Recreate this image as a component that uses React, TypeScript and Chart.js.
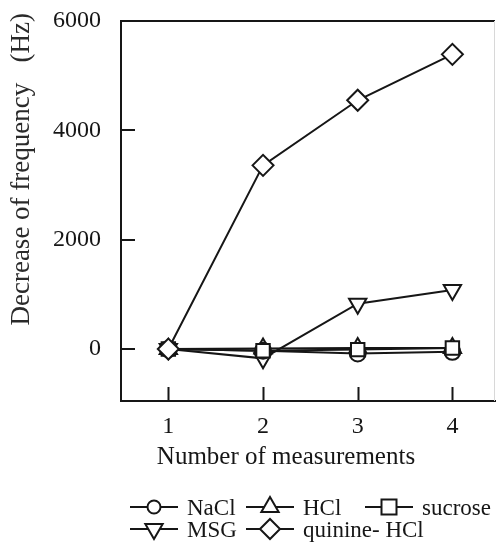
import React, { useEffect, useRef } from "react";
import { Chart, registerables } from "chart.js";

Chart.register(...registerables);

// ---- data ----
const measurements = [1, 2, 3, 4];
const naclValues = [0, -30, -80, -50];
const hclValues = [0, 10, 20, 20];
const sucroseValues = [0, -30, -10, 20];
const msgValues = [0, -170, 830, 1080];
const quinineValues = [0, 3360, 4550, 5390];
const xTickValues = [1, 2, 3, 4];
const yTickValues = [0, 2000, 4000, 6000];
const seriesLabels = ["NaCl", "HCl", "sucrose", "MSG", "quinine- HCl"];
const xTitle = "Number of measurements";
const yTitle = "Decrease of frequency   (Hz)";

const SERIF = '"Liberation Serif", "Times New Roman", serif';
const INK = "#161616";

type Shape = "circle" | "triangle" | "rect" | "triangleDown" | "rectRot";

function drawMarker(ctx: CanvasRenderingContext2D, shape: Shape, x: number, y: number, r: number) {
  ctx.beginPath();
  if (shape === "circle") {
    ctx.arc(x, y, r, 0, Math.PI * 2);
  } else if (shape === "triangle") {
    const w = r * Math.sqrt(3) / 2;
    ctx.moveTo(x, y - r);
    ctx.lineTo(x + w, y + r / 2);
    ctx.lineTo(x - w, y + r / 2);
    ctx.closePath();
  } else if (shape === "triangleDown") {
    const w = r * Math.sqrt(3) / 2;
    ctx.moveTo(x, y + r);
    ctx.lineTo(x + w, y - r / 2);
    ctx.lineTo(x - w, y - r / 2);
    ctx.closePath();
  } else if (shape === "rect") {
    ctx.rect(x - r, y - r, 2 * r, 2 * r);
  } else {
    ctx.moveTo(x - r, y);
    ctx.lineTo(x, y - r);
    ctx.lineTo(x + r, y);
    ctx.lineTo(x, y + r);
    ctx.closePath();
  }
  ctx.fillStyle = "#fff";
  ctx.fill();
  ctx.stroke();
}

const legendShapes: Shape[] = ["circle", "triangle", "rect", "triangleDown", "rectRot"];
const legendSizes = [6.5, 10, 7.5, 10, 10];

const framePlugin = {
  id: "frameAndTicks",
  afterDraw(chart: any) {
    const ctx = chart.ctx as CanvasRenderingContext2D;
    const { left, right, top, bottom } = chart.chartArea;
    const xs = chart.scales.x;
    const ys = chart.scales.y;
    ctx.save();
    ctx.strokeStyle = INK;
    ctx.lineWidth = 2;
    // top border
    ctx.beginPath();
    ctx.moveTo(left - 1, top);
    ctx.lineTo(right, top);
    ctx.stroke();
    // inward ticks
    const tl = 14;
    ctx.beginPath();
    xTickValues.forEach((v) => {
      const px = Math.round(xs.getPixelForValue(v)) + 0.5;
      ctx.moveTo(px, bottom);
      ctx.lineTo(px, bottom - tl);
    });
    yTickValues.forEach((v) => {
      if (v >= ys.max) return;
      const py = Math.round(ys.getPixelForValue(v));
      ctx.moveTo(left, py);
      ctx.lineTo(left + tl, py);
    });
    ctx.stroke();
    // faint right border
    ctx.strokeStyle = "#d8d8d8";
    ctx.lineWidth = 1;
    ctx.beginPath();
    ctx.moveTo(right - 0.5, top);
    ctx.lineTo(right - 0.5, bottom);
    ctx.stroke();
    // x axis title
    ctx.fillStyle = INK;
    ctx.font = `25px ${SERIF}`;
    ctx.textAlign = "center";
    ctx.textBaseline = "middle";
    ctx.fillText(xTitle, 286, 457);
    // y axis title
    ctx.translate(22, 13);
    ctx.rotate(-Math.PI / 2);
    ctx.fillStyle = "#2a2a2a";
    ctx.font = `27px ${SERIF}`;
    ctx.textAlign = "right";
    ctx.textBaseline = "middle";
    ctx.fillText(yTitle, 0, 0);
    ctx.restore();
  },
};

const legendPlugin = {
  id: "customLegend",
  afterDraw(chart: any) {
    const ctx = chart.ctx as CanvasRenderingContext2D;
    const cols = [130, 246, 365];
    const rows = [507, 529];
    const slots = [
      [0, 0],
      [1, 0],
      [2, 0],
      [0, 1],
      [1, 1],
    ];
    ctx.save();
    seriesLabels.forEach((label, i) => {
      const [c, r] = slots[i];
      const x0 = cols[c];
      const y = rows[r];
      ctx.strokeStyle = INK;
      ctx.lineWidth = 2;
      ctx.beginPath();
      ctx.moveTo(x0, y);
      ctx.lineTo(x0 + 48, y);
      ctx.stroke();
      drawMarker(ctx, legendShapes[i], x0 + 24, y, legendSizes[i]);
      ctx.fillStyle = INK;
      ctx.font = `23px ${SERIF}`;
      ctx.textAlign = "left";
      ctx.textBaseline = "middle";
      ctx.fillText(label, x0 + 57, y + 2);
    });
    ctx.restore();
  },
};

function toPoints(values: number[]) {
  return measurements.map((x, i) => ({ x, y: values[i] }));
}

export default function App() {
  const canvasRef = useRef<HTMLCanvasElement | null>(null);

  useEffect(() => {
    if (!canvasRef.current) return;
    const common = {
      borderColor: INK,
      borderWidth: 2,
      pointBackgroundColor: "#ffffff",
      pointBorderColor: INK,
      pointBorderWidth: 2,
      tension: 0,
      fill: false,
    };
    const chart = new Chart(canvasRef.current, {
      type: "line",
      data: {
        datasets: [
          { ...common, label: seriesLabels[0], data: toPoints(naclValues), pointStyle: "circle", pointRadius: 8, order: 2 },
          { ...common, label: seriesLabels[1], data: toPoints(hclValues), pointStyle: "triangle", pointRadius: 10, order: 3 },
          { ...common, label: seriesLabels[2], data: toPoints(sucroseValues), pointStyle: "rect", pointRadius: 9.5, order: 1 },
          { ...common, label: seriesLabels[3], data: toPoints(msgValues), pointStyle: "triangle", rotation: 180, pointRotation: 180, pointRadius: 10, order: 4 },
          { ...common, label: seriesLabels[4], data: toPoints(quinineValues), pointStyle: "rectRot", pointRadius: 10.5, order: 0 },
        ] as any,
      },
      options: {
        responsive: false,
        animation: false,
        devicePixelRatio: 1,
        layout: { autoPadding: false, padding: { top: 21, right: 1, bottom: 70, left: 0 } },
        plugins: {
          legend: { display: false },
          tooltip: { enabled: false },
        },
        scales: {
          x: {
            type: "linear",
            min: 0.5,
            max: 4.45,
            grid: { display: false, drawTicks: false },
            border: { display: true, color: INK, width: 2 },
            afterBuildTicks: (scale: any) => {
              scale.ticks = xTickValues.map((v) => ({ value: v }));
            },
            afterFit: (scale: any) => {
              scale.height = 77;
              scale.paddingLeft = 0;
              scale.paddingRight = 0;
            },
            ticks: {
              color: INK,
              font: { family: SERIF, size: 24 },
              padding: 11,
              maxRotation: 0,
              callback: (v: any) => String(v),
            },
            title: { display: false },
          },
          y: {
            type: "linear",
            min: -950,
            max: 6000,
            grid: { display: false, drawTicks: false },
            border: { display: true, color: INK, width: 2 },
            afterBuildTicks: (scale: any) => {
              scale.ticks = yTickValues.map((v) => ({ value: v }));
            },
            afterFit: (scale: any) => {
              scale.width = 121;
              scale.paddingTop = 0;
              scale.paddingBottom = 0;
            },
            ticks: {
              color: INK,
              font: { family: SERIF, size: 24 },
              padding: 20,
              callback: (v: any) => String(v),
            },
            title: { display: false },
          },
        },
      } as any,
      plugins: [framePlugin, legendPlugin],
    });
    return () => chart.destroy();
  }, []);

  return (
    <div style={{ position: "absolute", left: 0, top: 0, width: 496, height: 548, background: "#fff" }}>
      <canvas ref={canvasRef} width={496} height={548} style={{ display: "block", width: 496, height: 548 }} />
    </div>
  );
}
